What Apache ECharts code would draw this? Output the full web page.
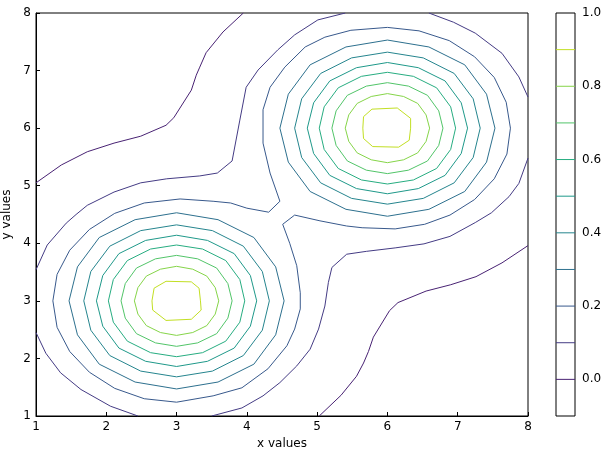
<!DOCTYPE html>
<html>
<head>
<meta charset="utf-8">
<script src="https://cdn.jsdelivr.net/npm/echarts@6/dist/echarts.min.js"></script>
<style>
html, body { margin: 0; padding: 0; background: #fff; }
#chart { width: 607px; height: 458px; }
</style>
</head>
<body>
<div id="chart"></div>
<script>
var chart = echarts.init(document.getElementById('chart'));

// contour levels and their line colours (viridis)
var levels = [0.0, 0.1, 0.2, 0.3, 0.4, 0.5, 0.6, 0.7, 0.8, 0.9];
var levelColors = ['#482273', '#443b84', '#38598c', '#2d708e', '#25858e',
                   '#1f998a', '#27ad81', '#52c569', '#86d549', '#c2df23'];

// the two peaks
var peakCenters = [[3, 3], [6, 6]];

// closed rings around each peak, as offsets from the peak
var ring03 = [[1.53,0],[1.41,0.59],[1.10,1.10],[0.59,1.41],[0,1.53],[-0.59,1.41],[-1.10,1.10],[-1.41,0.59],
              [-1.53,0],[-1.41,-0.59],[-1.10,-1.10],[-0.59,-1.41],[0,-1.53],[0.59,-1.41],[1.10,-1.10],[1.41,-0.59]];
var ring04 = [[1.32,0],[1.22,0.51],[0.95,0.95],[0.51,1.22],[0,1.32],[-0.51,1.22],[-0.95,0.95],[-1.22,0.51],
              [-1.32,0],[-1.22,-0.51],[-0.95,-0.95],[-0.51,-1.22],[0,-1.32],[0.51,-1.22],[0.95,-0.95],[1.22,-0.51]];
var ring05 = [[1.14,0],[1.05,0.44],[0.82,0.82],[0.44,1.05],[0,1.14],[-0.44,1.05],[-0.82,0.82],[-1.05,0.44],
              [-1.14,0],[-1.05,-0.44],[-0.82,-0.82],[-0.44,-1.05],[0,-1.14],[0.44,-1.05],[0.82,-0.82],[1.05,-0.44]];
var ring06 = [[0.97,0],[0.90,0.37],[0.70,0.70],[0.37,0.90],[0,0.97],[-0.37,0.90],[-0.70,0.70],[-0.90,0.37],
              [-0.97,0],[-0.90,-0.37],[-0.70,-0.70],[-0.37,-0.90],[0,-0.97],[0.37,-0.90],[0.70,-0.70],[0.90,-0.37]];
var ring07 = [[0.79,0],[0.73,0.30],[0.57,0.57],[0.30,0.73],[0,0.79],[-0.30,0.73],[-0.57,0.57],[-0.73,0.30],
              [-0.79,0],[-0.73,-0.30],[-0.57,-0.57],[-0.30,-0.73],[0,-0.79],[0.30,-0.73],[0.57,-0.57],[0.73,-0.30]];
var ring08 = [[0.60,0],[0.55,0.23],[0.43,0.43],[0.23,0.55],[0,0.60],[-0.23,0.55],[-0.43,0.43],[-0.55,0.23],
              [-0.60,0],[-0.55,-0.23],[-0.43,-0.43],[-0.23,-0.55],[0,-0.60],[0.23,-0.55],[0.43,-0.43],[0.55,-0.23]];

// innermost rings (level 0.9)
var inner09A = [[2.66,2.84],[2.65,3.00],[2.68,3.22],[2.85,3.34],[3.21,3.33],[3.32,3.22],
                [3.34,3.00],[3.35,2.84],[3.21,2.68],[2.85,2.66]];
var inner09B = [[5.66,5.82],[5.65,6.00],[5.66,6.20],[5.78,6.33],[6.14,6.35],[6.33,6.17],
                [6.33,6.00],[6.31,5.79],[6.16,5.67],[5.79,5.68]];

// level 0.2: one closed line around both peaks
var line02 = [[4.31,4.54],[4.00,4.61],[3.77,4.70],[3.52,4.73],[3.05,4.77],
  [2.54,4.70],[2.12,4.52],[1.76,4.24],[1.48,3.88],[1.30,3.46],[1.24,3.00],[1.30,2.54],
  [1.48,2.12],[1.76,1.76],[2.12,1.48],[2.54,1.30],[3.00,1.24],
  [3.52,1.35],[3.93,1.49],[4.30,1.82],[4.57,2.22],[4.68,2.51],[4.76,2.86],[4.76,3.14],
  [4.71,3.61],[4.61,4.00],[4.51,4.33],
  [4.68,4.49],[5.04,4.39],[5.42,4.30],[5.64,4.27],[6.11,4.25],[6.53,4.33],[6.89,4.49],
  [7.24,4.76],[7.52,5.12],[7.70,5.55],[7.75,6.00],[7.69,6.45],[7.52,6.88],[7.24,7.24],
  [6.88,7.52],[6.45,7.69],[6.00,7.75],
  [5.48,7.70],[5.11,7.58],[4.83,7.41],[4.54,7.06],[4.33,6.71],[4.23,6.32],[4.23,5.74],
  [4.33,5.22],[4.47,4.73],[4.31,4.54]];

// level 0.1: four open pieces that run to the frame
var line01a = [[1.00,3.54],[1.16,3.97],[1.43,4.35],[1.57,4.50],[1.73,4.66],[2.11,4.89],
  [2.49,5.05],[2.86,5.12],[3.33,5.17],[3.58,5.22],[3.79,5.43],[3.90,6.14],[3.99,6.71],
  [4.16,7.01],[4.44,7.36],[4.68,7.62],[5.01,7.88],[5.40,8.00]];
var line01b = [[6.59,8.00],[6.94,7.84],[7.25,7.65],[7.63,7.30],[7.87,6.89],[8.00,6.54]];
var line01c = [[8.00,5.48],[7.87,5.04],[7.73,4.81],[7.48,4.53],[7.25,4.36],[6.89,4.12],
  [6.52,3.99],[6.11,3.92],[5.70,3.86],[5.42,3.81],[5.21,3.58],[5.16,3.32],[5.11,2.91],
  [5.02,2.51],[4.90,2.16],[4.71,1.87],[4.47,1.58],[4.23,1.35],[3.93,1.14],[3.50,1.00]];
var line01d = [[1.00,2.45],[1.14,2.09],[1.35,1.75],[1.64,1.46],[2.06,1.17],[2.45,1.00]];

// level 0.0: the two corner lines
var line00a = [[1.00,5.05],[1.36,5.36],[1.73,5.59],[2.11,5.74],[2.49,5.86],[2.85,6.05],
  [2.96,6.18],[3.21,6.66],[3.28,6.92],[3.33,7.06],[3.42,7.31],[3.66,7.67],[3.95,8.00]];
var line00b = [[5.03,1.00],[5.34,1.36],[5.56,1.69],[5.66,1.92],[5.73,2.12],[5.80,2.37],
  [6.03,2.83],[6.15,2.97],[6.55,3.17],[6.90,3.28],[7.26,3.42],[7.63,3.66],[8.00,3.96]];

var font = 'DejaVu Sans';

function contour(points, level, closed) {
    var pts = points.slice();
    if (closed) pts.push(points[0]);
    return {
        type: 'line',
        xAxisIndex: 0,
        yAxisIndex: 0,
        data: pts,
        symbol: 'none',
        silent: true,
        animation: false,
        lineStyle: { width: 1, color: levelColors[levels.indexOf(level)] }
    };
}

var series = [];
var rings = [[ring03, 0.3], [ring04, 0.4], [ring05, 0.5], [ring06, 0.6], [ring07, 0.7], [ring08, 0.8]];
rings.forEach(function (r) {
    peakCenters.forEach(function (c) {
        var pts = r[0].map(function (o) { return [c[0] + o[0], c[1] + o[1]]; });
        series.push(contour(pts, r[1], true));
    });
});
series.push(contour(inner09A, 0.9, true));
series.push(contour(inner09B, 0.9, true));
series.push(contour(line02, 0.2, false));
series.push(contour(line01a, 0.1, false));
series.push(contour(line01b, 0.1, false));
series.push(contour(line01c, 0.1, false));
series.push(contour(line01d, 0.1, false));
series.push(contour(line00a, 0.0, false));
series.push(contour(line00b, 0.0, false));

// colourbar: one short line per level
levels.forEach(function (lv, i) {
    series.push({
        type: 'line',
        xAxisIndex: 1,
        yAxisIndex: 1,
        data: [[0, lv], [1, lv]],
        symbol: 'none',
        silent: true,
        animation: false,
        lineStyle: { width: 1, color: levelColors[i] }
    });
});

var option = {
    backgroundColor: '#fff',
    animation: false,
    grid: [
        { left: 36, top: 13, width: 492, height: 403, show: true, borderColor: '#000', borderWidth: 1,
          containLabel: false, outerBoundsMode: 'none' },
        { left: 556, top: 13, width: 19, height: 403, show: true, borderColor: '#000', borderWidth: 1,
          containLabel: false, outerBoundsMode: 'none' }
    ],
    xAxis: [{
        gridIndex: 0,
        type: 'value',
        min: 1, max: 8, interval: 1,
        name: 'x values',
        nameLocation: 'middle',
        nameGap: 21,
        nameTextStyle: { color: '#000', fontSize: 12, fontFamily: font },
        axisLine: { show: true, lineStyle: { color: '#000' } },
        axisTick: { inside: true, length: 4, lineStyle: { color: '#000' } },
        axisLabel: { color: '#000', fontSize: 12, fontFamily: font, margin: 5 },
        splitLine: { show: false }
    }, {
        gridIndex: 1,
        type: 'value',
        min: 0, max: 1,
        show: false
    }],
    yAxis: [{
        gridIndex: 0,
        type: 'value',
        min: 1, max: 8, interval: 1,
        name: 'y values',
        nameLocation: 'middle',
        nameGap: 18,
        nameTextStyle: { color: '#000', fontSize: 12, fontFamily: font },
        axisLine: { show: true, lineStyle: { color: '#000' } },
        axisTick: { inside: true, length: 4, lineStyle: { color: '#000' } },
        axisLabel: { color: '#000', fontSize: 12, fontFamily: font, margin: 5 },
        splitLine: { show: false }
    }, {
        gridIndex: 1,
        type: 'value',
        position: 'right',
        min: -0.1, max: 1.0, interval: 0.1,
        axisLine: { show: false },
        axisTick: { show: false },
        splitLine: { show: false },
        axisLabel: {
            color: '#000', fontSize: 12, fontFamily: font, margin: 7,
            formatter: function (v) {
                var k = Math.round(v * 10);
                return (k >= 0 && k % 2 === 0) ? (k / 10).toFixed(1) : '';
            }
        }
    }],
    series: series
};
chart.setOption(option);
</script>
</body>
</html>
